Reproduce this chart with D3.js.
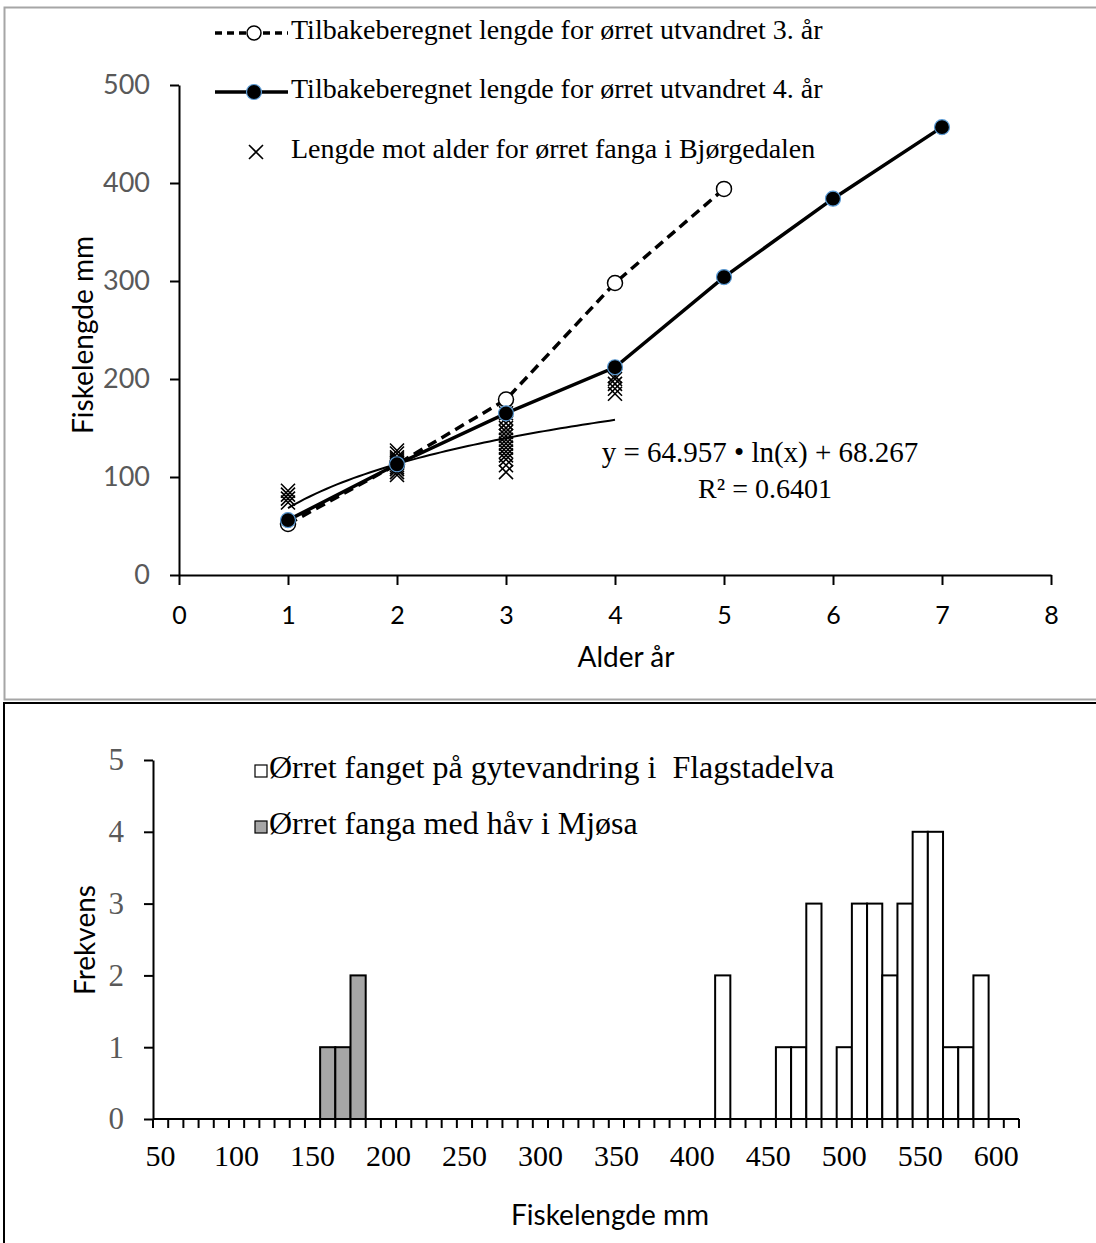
<!DOCTYPE html>
<html>
<head>
<meta charset="utf-8">
<script src="https://cdn.jsdelivr.net/npm/d3@7"></script>
<style>
  body { margin: 0; background: #fff; }
  svg { display: block; }
  .serif { font-family: "Liberation Serif", "Times New Roman", serif; }
  .sans { font-family: Lato, "Open Sans", sans-serif; }
</style>
</head>
<body>
<svg width="1096" height="1243"></svg>
<script>
// --- top chart data: back-calculated length by age
const ages3 = [1, 2, 3, 4, 5]
const lengths3 = [52, 113, 179, 298, 394]
const ages4 = [1, 2, 3, 4, 5, 6, 7]
const lengths4 = [56, 113, 165, 212, 304, 384, 457]
// observed length vs age, Bjørgedalen
const obsAge = [1, 1, 1, 1,
  2, 2, 2, 2, 2, 2, 2, 2, 2, 2, 2,
  3, 3, 3, 3, 3, 3, 3, 3, 3, 3, 3, 3, 3, 3,
  4, 4, 4, 4, 4]
const obsLength = [74, 78, 82, 86,
  102, 105, 108, 110, 112, 114, 116, 118, 120, 124, 127,
  105, 112, 118, 122, 126, 130, 134, 138, 142, 146, 150, 155, 160, 165,
  185, 190, 195, 200, 203]
const trendA = 64.957, trendB = 68.267, trendR2 = 0.6401
const topXTicks = [0, 1, 2, 3, 4, 5, 6, 7, 8]
const topYTicks = [0, 100, 200, 300, 400, 500]
const legendTop = [
  'Tilbakeberegnet lengde for ørret utvandret 3. år',
  'Tilbakeberegnet lengde for ørret utvandret 4. år',
  'Lengde mot alder for ørret fanga i Bjørgedalen'
]

// --- bottom chart data: length frequency (10 mm bins)
const binStart = 50, binEnd = 610
const flagBins = [420, 460, 470, 480, 500, 510, 520, 530, 540, 550, 560, 570, 580, 590]
const flagFreq = [2, 1, 1, 3, 1, 3, 3, 2, 3, 4, 4, 1, 1, 2]
const mjosaBins = [160, 170, 180]
const mjosaFreq = [1, 1, 2]
const bottomLabels = [50, 100, 150, 200, 250, 300, 350, 400, 450, 500, 550, 600]
const bottomYTicks = [0, 1, 2, 3, 4, 5]
const legendBottom = ['Ørret fanget på gytevandring i \u00a0Flagstadelva', 'Ørret fanga med håv i Mjøsa']

const svg = d3.select('svg')

// frames
svg.append('rect').attr('x', 4.5).attr('y', 7.5).attr('width', 1100).attr('height', 692)
  .attr('fill', 'none').attr('stroke', '#a6a6a6').attr('stroke-width', 2)
svg.append('rect').attr('x', 4).attr('y', 703).attr('width', 1100).attr('height', 600)
  .attr('fill', 'none').attr('stroke', '#000').attr('stroke-width', 2)

// ================= TOP CHART =================
const x1 = d3.scaleLinear().domain([0, 8]).range([179, 1051])
const y1 = d3.scaleLinear().domain([0, 500]).range([575, 85])
const topG = svg.append('g')

const styleAxis = (g, color, size, family) => {
  g.select('.domain').attr('stroke', '#000').attr('stroke-width', 2)
  g.selectAll('.tick line').attr('stroke', '#000').attr('stroke-width', 2)
  g.selectAll('.tick text').attr('fill', color).style('font-size', size + 'px')
    .style('font-family', family)
}

topG.append('g').attr('transform', `translate(0,${y1(0)})`)
  .call(d3.axisBottom(x1).tickValues(topXTicks).tickSize(10).tickSizeOuter(0).tickPadding(21))
  .call(g => styleAxis(g, '#000', 25, 'Lato, sans-serif'))
topG.append('g').attr('transform', `translate(${x1(0)},0)`)
  .call(d3.axisLeft(y1).tickValues(topYTicks).tickSize(9).tickSizeOuter(0).tickPadding(20))
  .call(g => styleAxis(g, '#595959', 27, 'Lato, sans-serif'))

topG.append('text').attr('class', 'sans')
  .attr('transform', `translate(86,${(y1(0) + y1(500)) / 2 + 5}) rotate(-90)`)
  .attr('text-anchor', 'middle').attr('dominant-baseline', 'middle')
  .style('font-size', '28px').text('Fiskelengde mm')
topG.append('text').attr('class', 'sans')
  .attr('x', (x1(0) + x1(8)) / 2 + 11).attr('y', 660)
  .attr('text-anchor', 'middle').attr('dominant-baseline', 'middle')
  .style('font-size', '28px').text('Alder år')

// trendline (log fit) from 1 to 4
const trendXs = d3.range(1, 4.001, 0.05)
topG.append('path')
  .attr('d', d3.line().x(d => x1(d)).y(d => y1(trendA * Math.log(d) + trendB))(trendXs))
  .attr('fill', 'none').attr('stroke', '#000').attr('stroke-width', 2)

// crosses
const crossPath = s => `M${-s},${-s}L${s},${s}M${-s},${s}L${s},${-s}`
topG.append('g').selectAll('path.obs')
  .data(obsAge.map((a, i) => [a, obsLength[i]]))
  .join('path').attr('class', 'obs')
  .attr('transform', d => `translate(${x1(d[0])},${y1(d[1])})`)
  .attr('d', crossPath(7))
  .attr('stroke', '#000').attr('stroke-width', 1.6).attr('fill', 'none')

// series lines
const line = d3.line().x(d => x1(d[0])).y(d => y1(d[1]))
const s3 = ages3.map((a, i) => [a, lengths3[i]])
const s4 = ages4.map((a, i) => [a, lengths4[i]])
topG.append('path').attr('d', line(s3)).attr('fill', 'none')
  .attr('stroke', '#000').attr('stroke-width', 3.5).attr('stroke-dasharray', '10,6')
topG.append('path').attr('d', line(s4)).attr('fill', 'none')
  .attr('stroke', '#000').attr('stroke-width', 3.5)

topG.append('g').selectAll('circle').data(s3).join('circle')
  .attr('cx', d => x1(d[0])).attr('cy', d => y1(d[1])).attr('r', 7.5)
  .attr('fill', '#fff').attr('stroke', '#000').attr('stroke-width', 1.5)
topG.append('g').selectAll('circle').data(s4).join('circle')
  .attr('cx', d => x1(d[0])).attr('cy', d => y1(d[1])).attr('r', 7.5)
  .attr('fill', '#000').attr('stroke', '#5b9bd5').attr('stroke-width', 1.2)

// equation
topG.append('text').attr('class', 'serif').attr('x', 760).attr('y', 455)
  .attr('text-anchor', 'middle').attr('dominant-baseline', 'middle')
  .style('font-size', '29px').text(`y = ${trendA} • ln(x) + ${trendB}`)
topG.append('text').attr('class', 'serif').attr('x', 765).attr('y', 492)
  .attr('text-anchor', 'middle').attr('dominant-baseline', 'middle')
  .style('font-size', '28px').text(`R² = ${trendR2}`)

// legend top
const legY = [33, 92, 152]
const lg = topG.append('g')
lg.append('line').attr('x1', 215).attr('x2', 288).attr('y1', legY[0]).attr('y2', legY[0])
  .attr('stroke', '#000').attr('stroke-width', 3.5).attr('stroke-dasharray', '7,5')
lg.append('circle').attr('cx', 254).attr('cy', legY[0]).attr('r', 7)
  .attr('fill', '#fff').attr('stroke', '#000').attr('stroke-width', 1.5)
lg.append('line').attr('x1', 215).attr('x2', 288).attr('y1', legY[1]).attr('y2', legY[1])
  .attr('stroke', '#000').attr('stroke-width', 3.5)
lg.append('circle').attr('cx', 254).attr('cy', legY[1]).attr('r', 7.5)
  .attr('fill', '#000').attr('stroke', '#5b9bd5').attr('stroke-width', 1.2)
lg.append('path').attr('transform', `translate(256,${legY[2]})`).attr('d', crossPath(7))
  .attr('stroke', '#000').attr('stroke-width', 1.6)
lg.selectAll('text').data(legendTop).join('text').attr('class', 'serif')
  .attr('x', 291).attr('y', (d, i) => legY[i])
  .attr('dominant-baseline', 'middle').style('font-size', '28px').text(d => d)

// ================= BOTTOM CHART =================
const cats = d3.range(binStart, binEnd + 1, 10)
const xb = d3.scaleBand().domain(cats).range([153, 1019]).paddingInner(0).paddingOuter(0)
const yb = d3.scaleLinear().domain([0, 5]).range([1119, 760])
const botG = svg.append('g')

const drawBars = (bins, freq, fill) =>
  botG.append('g').selectAll('rect').data(bins.map((b, i) => [b, freq[i]])).join('rect')
    .attr('x', d => xb(d[0])).attr('width', xb.bandwidth())
    .attr('y', d => yb(d[1])).attr('height', d => yb(0) - yb(d[1]))
    .attr('fill', fill).attr('stroke', '#000').attr('stroke-width', 2)
drawBars(mjosaBins, mjosaFreq, '#a6a6a6')
drawBars(flagBins, flagFreq, '#fff')

// x axis: ticks at bin borders, labels at bin centers
botG.append('line').attr('x1', 153).attr('x2', 1019).attr('y1', yb(0)).attr('y2', yb(0))
  .attr('stroke', '#000').attr('stroke-width', 2)
botG.append('g').selectAll('line').data(cats.concat([binEnd + 10])).join('line')
  .attr('x1', d => d <= binEnd ? xb(d) : xb(binEnd) + xb.bandwidth())
  .attr('x2', d => d <= binEnd ? xb(d) : xb(binEnd) + xb.bandwidth())
  .attr('y1', yb(0)).attr('y2', yb(0) + 9)
  .attr('stroke', '#000').attr('stroke-width', 2)
botG.append('g').attr('transform', `translate(0,${yb(0)})`)
  .call(d3.axisBottom(xb).tickValues(bottomLabels).tickSize(0).tickPadding(26))
  .call(g => g.select('.domain').remove())
  .call(g => g.selectAll('.tick text').attr('fill', '#000').style('font-size', '30px')
    .style('font-family', '"Liberation Serif", serif'))

botG.append('g').attr('transform', `translate(153,0)`)
  .call(d3.axisLeft(yb).tickValues(bottomYTicks).tickFormat(d3.format('d'))
    .tickSize(9).tickSizeOuter(0).tickPadding(20))
  .call(g => styleAxis(g, '#595959', 31, '"Liberation Serif", serif'))

botG.append('text').attr('class', 'sans')
  .attr('transform', `translate(88,940) rotate(-90)`)
  .attr('text-anchor', 'middle').attr('dominant-baseline', 'middle')
  .style('font-size', '28px').text('Frekvens')
botG.append('text').attr('class', 'sans')
  .attr('x', 610).attr('y', 1218)
  .attr('text-anchor', 'middle').attr('dominant-baseline', 'middle')
  .style('font-size', '28px').text('Fiskelengde mm')

// legend bottom
const lbY = [771, 827]
const lbFill = ['#fff', '#a6a6a6']
const lb = botG.append('g')
lb.selectAll('rect').data(lbFill).join('rect')
  .attr('x', 255).attr('y', (d, i) => lbY[i] - 6).attr('width', 12).attr('height', 12)
  .attr('fill', d => d).attr('stroke', '#000').attr('stroke-width', 1.2)
lb.selectAll('text').data(legendBottom).join('text').attr('class', 'serif')
  .attr('x', 269).attr('y', (d, i) => lbY[i])
  .attr('dominant-baseline', 'middle').style('font-size', '32px').text(d => d)
</script>
</body>
</html>
